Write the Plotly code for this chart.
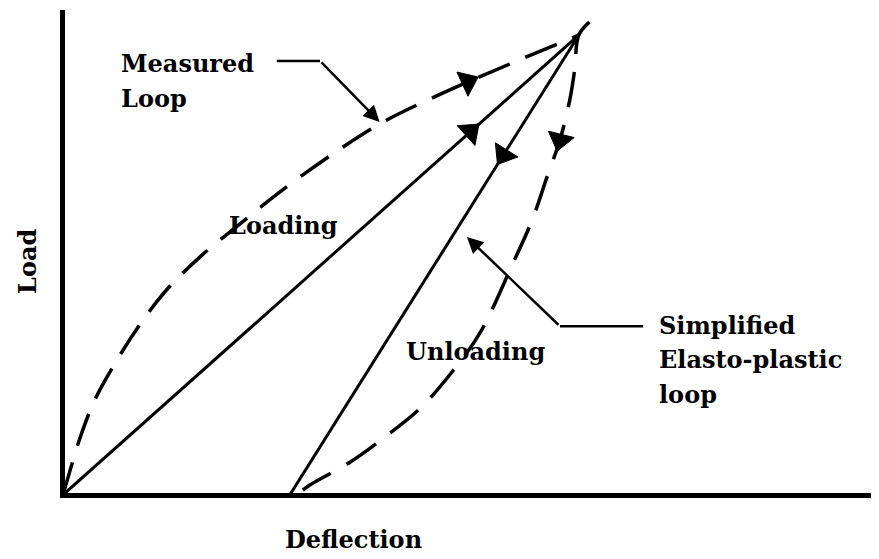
import plotly.graph_objects as go

# ---- data (deflection, load in arbitrary units 0-100) ----
loading_x = [0.0, 63.2]
loading_y = [0.0, 94.8]
unloading_x = [63.2, 27.8]
unloading_y = [94.8, 0.0]

measured_up_x = [0.0, 0.6, 2.1, 3.9, 6.4, 9.2, 12.5, 16.8, 21.7, 26.6, 32.7, 38.8, 46.6, 54.8, 63.2]
measured_up_y = [0.0, 3.5, 11.8, 19.6, 27.2, 34.6, 41.9, 49.1, 55.9, 62.5, 69.9, 76.5, 82.9, 88.9, 94.8]

measured_down_x = [64.5, 63.2, 62.7, 62.1, 60.9, 59.4, 57.5, 55.2, 51.1, 47.7, 43.8, 39.8, 35.2, 30.3, 29.4]
measured_down_y = [97.5, 94.8, 87.6, 81.4, 73.2, 66.0, 56.7, 48.0, 33.4, 25.4, 17.9, 12.4, 6.8, 2.1, 1.0]

# direction arrow locations
loading_arrow_frac = 0.79
unloading_arrow_frac = 0.26
up_arrow_pos = (49.6, 85.2)
down_arrow_pos = (60.9, 73.2)

labels = {
    "measured": ["Measured", "Loop"],
    "simplified": ["Simplified", "Elasto-plastic", "loop"],
}

FONT = dict(family="DejaVu Serif", size=24, color="black", weight="bold")
LW = 3

fig = go.Figure()

fig.add_trace(go.Scatter(x=loading_x, y=loading_y, mode="lines", cliponaxis=False,
                         line=dict(color="black", width=LW)))
fig.add_trace(go.Scatter(x=unloading_x, y=unloading_y, mode="lines", cliponaxis=False,
                         line=dict(color="black", width=LW)))
fig.add_trace(go.Scatter(x=measured_up_x, y=measured_up_y, mode="lines", cliponaxis=False,
                         line=dict(color="black", width=LW + 0.5, dash="34px,17px", shape="spline")))
fig.add_trace(go.Scatter(x=measured_down_x, y=measured_down_y, mode="lines", cliponaxis=False,
                         line=dict(color="black", width=LW + 0.5, dash="36px,18px", shape="spline")))


def along(xs, ys, f):
    return xs[0] + (xs[1] - xs[0]) * f, ys[0] + (ys[1] - ys[0]) * f


def arrow(p0, p1):
    fig.add_trace(go.Scatter(
        x=[p0[0], p1[0]], y=[p0[1], p1[1]], mode="markers", opacity=1,
        marker=dict(symbol="triangle-up", size=[0, 23], color="black", opacity=1,
                    angleref="previous", line=dict(width=1, color="black"))))


arrow(along(loading_x, loading_y, loading_arrow_frac - 0.05),
      along(loading_x, loading_y, loading_arrow_frac))
arrow(along(unloading_x, unloading_y, unloading_arrow_frac - 0.05),
      along(unloading_x, unloading_y, unloading_arrow_frac))
arrow((measured_up_x[12], measured_up_y[12]), up_arrow_pos)
arrow((measured_down_x[3], measured_down_y[3]), down_arrow_pos)

# leader lines
fig.add_shape(type="line", x0=26.2, y0=89.5, x1=31.5, y1=89.5,
              line=dict(color="black", width=2.5))
fig.add_shape(type="line", x0=71.1, y0=34.8, x1=60.9, y1=34.8,
              line=dict(color="black", width=2.5))

annotations = [
    dict(x=38.8, y=76.9, ax=31.5, ay=89.5, axref="x", ayref="y", xref="x", yref="y",
         text="", showarrow=True, arrowhead=2, arrowsize=1.3, arrowwidth=2.5, arrowcolor="black"),
    dict(x=49.5, y=53.2, ax=60.9, ay=34.8, axref="x", ayref="y", xref="x", yref="y",
         text="", showarrow=True, arrowhead=2, arrowsize=1.3, arrowwidth=2.5, arrowcolor="black"),
]
for i, t in enumerate(labels["measured"]):
    annotations.append(dict(x=6.9, y=89.0 - i * 7.2, text=t, xanchor="left", yanchor="middle",
                            showarrow=False, font=FONT))
for i, t in enumerate(labels["simplified"]):
    annotations.append(dict(x=72.8, y=35.0 - i * 7.1, text=t, xanchor="left", yanchor="middle",
                            showarrow=False, font=FONT))
annotations.append(dict(x=20.1, y=55.6, text="Loading", xanchor="left", yanchor="middle",
                        showarrow=False, font=FONT))
annotations.append(dict(x=41.8, y=29.5, text="Unloading", xanchor="left", yanchor="middle",
                        showarrow=False, font=FONT))
# axis labels (paper coordinates, outside the plot area)
annotations.append(dict(x=-0.047, y=0.48, xref="paper", yref="paper", text="Load", textangle=-90,
                        xanchor="center", yanchor="middle", showarrow=False, font=FONT))
annotations.append(dict(x=0.355, y=-0.097, xref="paper", yref="paper", text="Deflection",
                        xanchor="center", yanchor="middle", showarrow=False, font=FONT))

# page body has an 8px default margin: size the figure to fill the window exactly
fig.update_layout(
    width=871, height=551,
    margin=dict(l=57, r=0, t=2, b=66),
    paper_bgcolor="white", plot_bgcolor="white",
    showlegend=False,
    annotations=annotations,
    xaxis=dict(range=[0.25, 100], showline=True, linewidth=5, linecolor="black",
               showgrid=False, zeroline=False, showticklabels=False, ticks=""),
    yaxis=dict(range=[0.4, 100], showline=True, linewidth=5, linecolor="black",
               showgrid=False, zeroline=False, showticklabels=False, ticks=""),
)

fig.write_html("out.html")
